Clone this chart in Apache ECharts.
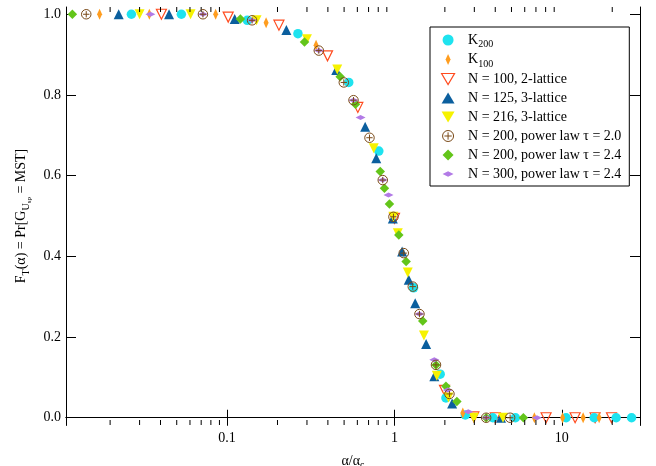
<!DOCTYPE html>
<html><head><meta charset="utf-8">
<script src="https://cdn.jsdelivr.net/npm/echarts@6/dist/echarts.min.js"></script>
<style>html,body{margin:0;padding:0;background:#fff}#c{width:656px;height:466px}</style>
</head><body><div id="c"></div>
<script>
// ---- data ----
const k200 = [[0.0268,1.0],[0.0533,1.0],[0.132,0.985],[0.265,0.952],[0.533,0.831],[0.806,0.661],[1.30,0.322],[1.875,0.108],[2.03,0.049],[2.65,0.007],[3.87,0.0],[5.28,0.0],[10.6,0.0],[15.6,0.0],[21.1,0.0],[26.1,0.0]];
const k100 = [[0.0173,1.0],[0.0343,1.0],[0.0854,1.0],[0.171,0.979],[0.34,0.923],[2.56,0.012],[6.85,0.0],[10.1,0.0],[13.4,0.0],[16.7,0.0]];
const lattice2N100 = [[0.0405,1.0],[0.1015,0.993],[0.204,0.973],[0.398,0.897],[0.604,0.769],[1.0,0.494],[1.99,0.068],[2.98,0.002],[4.0,0.0],[8.05,0.0],[12.0,0.0],[15.8,0.0],[19.8,0.0]];
const lattice3N125 = [[0.0225,1.0],[0.045,1.0],[0.111,0.988],[0.226,0.961],[0.449,0.862],[0.668,0.721],[0.778,0.643],[0.977,0.494],[1.111,0.412],[1.217,0.342],[1.33,0.284],[1.546,0.183],[1.73,0.103],[2.21,0.035],[4.33,0.0]];
const lattice3N216 = [[0.030,1.0],[0.0605,1.0],[0.150,0.985],[0.30,0.938],[0.455,0.863],[0.752,0.668],[0.986,0.498],[1.047,0.457],[1.2,0.36],[1.50,0.204],[1.79,0.104],[2.10,0.05],[2.98,0.0],[4.45,0.0]];
const powerN200t20 = [[0.0144,1.0],[0.0717,1.0],[0.141,0.985],[0.353,0.91],[0.498,0.831],[0.569,0.787],[0.709,0.694],[0.851,0.589],[0.986,0.498],[1.136,0.408],[1.286,0.325],[1.41,0.257],[1.77,0.131],[2.13,0.059],[3.53,0.0],[4.91,0.0]];
const powerN200t24 = [[0.0119,1.0],[0.120,0.988],[0.29,0.931],[0.474,0.845],[0.585,0.777],[0.822,0.61],[0.871,0.569],[0.933,0.53],[1.061,0.453],[1.174,0.387],[1.475,0.24],[1.77,0.131],[2.03,0.078],[2.36,0.04],[3.53,0.0],[5.89,0.0]];
const powerN300t24 = [[0.0348,1.0],[0.0717,1.0],[0.141,0.985],[0.353,0.91],[0.569,0.787],[0.627,0.744],[0.851,0.589],[0.921,0.552],[1.41,0.257],[1.73,0.144],[2.08,0.069],[2.76,0.015],[3.53,0.0],[7.09,0.0]];

const seriesNames = ['K200','K100','N = 100, 2-lattice','N = 125, 3-lattice','N = 216, 3-lattice','N = 200, power law \u03c4 = 2.0','N = 200, power law \u03c4 = 2.4','N = 300, power law \u03c4 = 2.4'];
const yTickValues = [0, 0.2, 0.4, 0.6, 0.8, 1.0];
const xMinorTickValues = [0.02,0.03,0.04,0.05,0.06,0.07,0.08,0.09,0.2,0.3,0.4,0.5,0.6,0.7,0.8,0.9,2,3,4,5,6,7,8,9,20];

// ---- axis ranges ----
const X_MIN = 0.0109, X_MAX = 29.3, Y_MIN = -0.018, Y_MAX = 1.018;

const FONT = 'Liberation Serif';
const SYM_UP = 'path://M10,0L20,17L0,17Z';
const SYM_DOWN = 'path://M0,0L20,0L10,17Z';
const SYM_DIAM = 'path://M10,0L20,10L10,20L0,10Z';
const SYM_THIN = 'path://M5,0L10,11L5,22L0,11Z';
const SYM_FLAT = 'path://M0,5L10,0L20,5L10,10Z M0,-5 M20,15';
const SYM_CPLUS = 'path://M1,10 A9,9 0 1,1 19,10 A9,9 0 1,1 1,10 Z M10,4 L10,16 M4,10 L16,10';

const styles = {
  'K200': {symbol:'circle', size:9.5, item:{color:'#1ee3ef'}},
  'K100': {symbol:SYM_THIN, size:[5,11], item:{color:'#ff9d1f'}},
  'N = 100, 2-lattice': {symbol:SYM_DOWN, size:10, item:{color:'rgba(255,255,255,0)', borderColor:'#ff4b1f', borderWidth:1.2}},
  'N = 125, 3-lattice': {symbol:SYM_UP, size:10, item:{color:'#0b5f9e'}},
  'N = 216, 3-lattice': {symbol:SYM_DOWN, size:10, item:{color:'#f6f200'}},
  'N = 200, power law \u03c4 = 2.0': {symbol:SYM_CPLUS, size:9.5, item:{color:'rgba(255,255,255,0)', borderColor:'#7a4a18', borderWidth:1}},
  'N = 200, power law \u03c4 = 2.4': {symbol:SYM_DIAM, size:9.5, item:{color:'#63c51a'}},
  'N = 300, power law \u03c4 = 2.4': {symbol:SYM_FLAT, size:10, item:{color:'#b27ae6'}}
};
const dataByName = {
  'K200': k200, 'K100': k100,
  'N = 100, 2-lattice': lattice2N100,
  'N = 125, 3-lattice': lattice3N125,
  'N = 216, 3-lattice': lattice3N216,
  'N = 200, power law \u03c4 = 2.0': powerN200t20,
  'N = 200, power law \u03c4 = 2.4': powerN200t24,
  'N = 300, power law \u03c4 = 2.4': powerN300t24
};
// drawing order (later = on top)
const drawOrder = ['N = 100, 2-lattice','K200','N = 125, 3-lattice','N = 216, 3-lattice','K100','N = 200, power law \u03c4 = 2.4','N = 300, power law \u03c4 = 2.4','N = 200, power law \u03c4 = 2.0'];

const scatterSeries = drawOrder.map((name, i) => ({
  name, type:'scatter', xAxisIndex:0, yAxisIndex:0,
  data: dataByName[name],
  symbol: styles[name].symbol, symbolSize: styles[name].size,
  itemStyle: Object.assign({opacity:1}, styles[name].item),
  z: 3 + i, emphasis:{disabled:true}
}));

const tickSeries = {
  type:'custom', xAxisIndex:0, yAxisIndex:0, silent:true, z:10,
  data: xMinorTickValues.map(v => [v, 0]),
  encode:{x:0, y:1},
  renderItem: (params, api) => {
    const v = api.value(0);
    const b = api.coord([v, Y_MIN]);
    const t = api.coord([v, Y_MAX]);
    return {type:'group', children:[
      {type:'line', shape:{x1:b[0], y1:b[1], x2:b[0], y2:b[1]-5}, style:{stroke:'#000', lineWidth:1}},
      {type:'line', shape:{x1:t[0], y1:t[1], x2:t[0], y2:t[1]+5}, style:{stroke:'#000', lineWidth:1}}
    ]};
  }
};

const axisLineStyle = {show:true, lineStyle:{color:'#000', width:1}};
const labelStyle = {fontFamily:FONT, fontSize:14, color:'#000'};

const option = {
  backgroundColor:'#fff',
  animation:false,
  grid:{left:66, right:16, top:7, bottom:41, containLabel:false, outerBoundsMode:'none'},
  xAxis:[
    {type:'log', logBase:10, min:X_MIN, max:X_MAX, position:'bottom',
     axisLine:axisLineStyle, splitLine:{show:false},
     axisTick:{show:true, inside:true, length:8, lineStyle:{color:'#000'}},
     axisLabel:Object.assign({margin:6, showMinLabel:false, showMaxLabel:false}, labelStyle),
     name:'\u03b1/\u03b1{sub|c}', nameLocation:'middle', nameGap:27,
     nameTextStyle:{fontFamily:FONT, fontSize:14, color:'#000', lineHeight:18,
       rich:{sub:{fontFamily:FONT, fontSize:10, color:'#000', padding:[9,0,0,0]}}}},
    {type:'log', logBase:10, min:X_MIN, max:X_MAX, position:'top',
     axisLine:axisLineStyle, splitLine:{show:false},
     axisTick:{show:true, inside:true, length:8, lineStyle:{color:'#000'}},
     axisLabel:{show:false}}
  ],
  yAxis:[
    {type:'value', min:Y_MIN, max:Y_MAX, position:'left',
     axisLine:axisLineStyle, splitLine:{show:false},
     axisTick:{show:true, inside:true, length:10, customValues:yTickValues, lineStyle:{color:'#000'}},
     axisLabel:Object.assign({margin:5, customValues:yTickValues, formatter:v => v.toFixed(1)}, labelStyle),
     name:'F{sub|T}(\u03b1) = Pr[G{sub|U}{ss|sp} = MST]', nameLocation:'middle', nameGap:34,
     nameTextStyle:{fontFamily:FONT, fontSize:14, color:'#000', lineHeight:18,
       rich:{sub:{fontFamily:FONT, fontSize:10, color:'#000', padding:[9,0,0,0]},
             ss:{fontFamily:FONT, fontSize:7, color:'#000', padding:[15,0,0,0]}}}},
    {type:'value', min:Y_MIN, max:Y_MAX, position:'right',
     axisLine:axisLineStyle, splitLine:{show:false},
     axisTick:{show:true, inside:true, length:10, customValues:yTickValues, lineStyle:{color:'#000'}},
     axisLabel:{show:false}}
  ],
  legend:{
    orient:'vertical', left:430, top:27, padding:[4,8,3,11],
    itemWidth:30, itemHeight:11, itemGap:1,
    borderColor:'#000', borderWidth:1, borderRadius:0, backgroundColor:'#fff',
    selectedMode:false,
    textStyle:{fontFamily:FONT, fontSize:14, color:'#000', lineHeight:18,
      rich:{sub:{fontFamily:FONT, fontSize:10, color:'#000', padding:[9,0,0,0]}}},
    formatter: n => n.replace(/^K(\d+)$/, 'K{sub|$1}'),
    data: seriesNames.map(n => ({name:n, icon:styles[n].symbol, itemStyle:Object.assign({borderWidth:0}, styles[n].item)}))
  },
  series: scatterSeries.concat([tickSeries])
};

const chart = echarts.init(document.getElementById('c'), null, {renderer:'canvas'});
chart.setOption(option);
</script>
</body></html>
